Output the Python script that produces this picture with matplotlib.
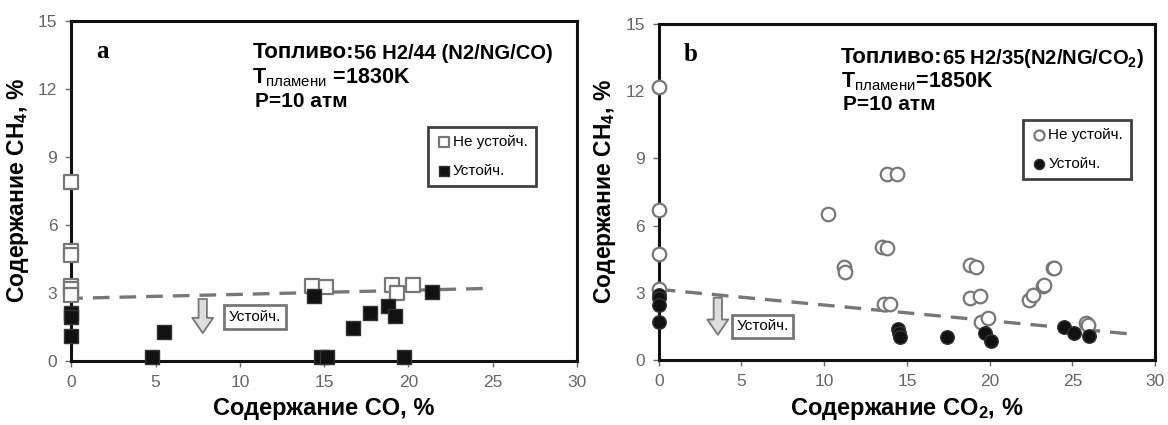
import matplotlib
matplotlib.use("Agg")
import matplotlib.pyplot as plt

plt.rcParams["font.family"] = ["Liberation Sans", "DejaVu Sans"]
plt.rcParams["mathtext.fontset"] = "custom"
plt.rcParams["mathtext.rm"] = "Liberation Sans"
plt.rcParams["mathtext.bf"] = "Liberation Sans:bold"
plt.rcParams["mathtext.it"] = "Liberation Sans:italic"

NARROW = ["Liberation Sans Narrow", "Liberation Sans", "DejaVu Sans"]

# ---- panel a: CO content ----
a_unstable_x = [0, 0, 0, 0, 0, 0, 14.3, 15.1, 19.0, 19.3, 20.3]
a_unstable_y = [7.9, 4.85, 4.65, 3.3, 3.15, 2.9, 3.3, 3.25, 3.35, 3.0, 3.35]
a_stable_x = [0, 0, 0, 4.8, 5.5, 14.4, 14.8, 15.2, 16.7, 17.7, 18.8, 19.2, 19.75, 21.4]
a_stable_y = [2.1, 1.95, 1.1, 0.15, 1.25, 2.85, 0.15, 0.15, 1.47, 2.13, 2.42, 1.98, 0.15, 3.03]
a_trend_x = [-0.3, 25.0]
a_trend_y = [2.75, 3.2]

# ---- panel b: CO2 content ----
b_unstable_x = [0, 0, 0, 0, 10.2, 13.8, 14.4, 13.5, 13.8, 11.2, 11.25, 13.6, 14.0,
                18.8, 19.15, 18.8, 19.4, 19.5, 19.9, 22.4, 22.6, 23.2, 23.3, 23.8, 23.9,
                25.85, 25.95]
b_unstable_y = [12.2, 6.67, 4.72, 3.15, 6.52, 8.3, 8.3, 5.06, 4.99, 4.17, 3.94, 2.5, 2.5,
                4.24, 4.17, 2.78, 2.87, 1.71, 1.86, 2.68, 2.9, 3.32, 3.35, 4.1, 4.12,
                1.64, 1.56]
b_stable_x = [0, 0, 0, 0, 14.45, 14.5, 14.55, 17.4, 19.7, 20.1, 24.5, 25.1, 26.0]
b_stable_y = [2.9, 2.75, 2.46, 1.71, 1.37, 1.19, 1.04, 1.04, 1.19, 0.86, 1.49, 1.22, 1.07]
b_trend_x = [0.0, 28.5]
b_trend_y = [3.15, 1.16]

x_ticks = [0, 5, 10, 15, 20, 25, 30]
y_ticks = [0, 3, 6, 9, 12, 15]

legend_labels = ["Не устойч.", "Устойч."]


def style_axes(ax, xlabel):
    ax.set_xlim(0, 30)
    ax.set_ylim(0, 15)
    ax.set_xticks(x_ticks)
    ax.set_yticks(y_ticks)
    ax.tick_params(direction="out", length=4, width=1, colors="#666666",
                   labelsize=12.5, pad=6)
    for side in ["left", "bottom", "top", "right"]:
        ax.spines[side].set_linewidth(2.2)
        ax.spines[side].set_color("#111111")
    ax.set_xlabel(xlabel, fontsize=17, fontweight="bold", labelpad=5)
    ax.set_ylabel("Содержание CH$_{\\mathbf{4}}$, %", fontsize=16.5,
                  fontweight="bold", labelpad=5)


def draw_panel(ax, letter, fuel_lead, fuel_rest, temp, marker, ux, uy, sx, sy,
               tx, ty, arrow_x, arrow_y, box_x, box_y, text_x, text_y,
               legend_anchor, xlabel):
    ax.plot(tx, ty, linestyle=(0, (5, 3)), color="#777777", linewidth=2.4, zorder=2,
            clip_on=False)
    h1 = ax.scatter(ux, uy, marker=marker, s=95, facecolors="white",
                    edgecolors="#777777", linewidths=1.6, zorder=3, clip_on=False,
                    label=legend_labels[0])
    h2 = ax.scatter(sx, sy, marker=marker, s=95, facecolors="#111111",
                    edgecolors="#333333", linewidths=1.0, zorder=4, clip_on=False,
                    label=legend_labels[1])

    ax.text(0.05, 0.91, letter, transform=ax.transAxes, fontsize=18,
            fontweight="bold", family=["Liberation Serif", "DejaVu Serif"],
            va="center", ha="left")

    t = ax.text(text_x, text_y[0], fuel_lead, fontsize=16, fontweight="bold",
                va="center", ha="left")
    ax.annotate(fuel_rest, xycoords=t, xy=(1, 0.45), va="center", ha="left",
                fontsize=14.5, fontweight="bold")
    ax.text(text_x, text_y[1], "$\\mathbf{T}_{\\mathrm{пламени}}$" + temp, fontsize=15.5,
            fontweight="bold", va="center", ha="left")
    ax.text(text_x + 0.15, text_y[2], "P=10 атм", fontsize=15, fontweight="bold",
            va="center", ha="left")

    ax.annotate("", xy=(arrow_x, arrow_y[1]), xytext=(arrow_x, arrow_y[0]),
                arrowprops=dict(arrowstyle="simple,head_width=1.5,head_length=1.1,tail_width=0.6",
                                fc="#dddddd", ec="#777777", lw=1.3))
    ax.text(box_x, box_y, "Устойч.", fontsize=11, family=NARROW, va="center", ha="left",
            bbox=dict(boxstyle="square,pad=0.3", fc="white", ec="#777777", lw=2))

    leg = ax.legend(handles=[h1, h2], loc="upper left", bbox_to_anchor=legend_anchor,
                    borderaxespad=0, frameon=True, fancybox=False,
                    labelspacing=0.95, handletextpad=0.1, handlelength=1.0,
                    borderpad=0.55, markerscale=0.75,
                    prop={"family": NARROW, "size": 11})
    leg.get_frame().set_edgecolor("#111111")
    leg.get_frame().set_linewidth(2)

    style_axes(ax, xlabel)


def main():
    fig = plt.figure(figsize=(11.68, 4.25), dpi=100)
    ax_a = fig.add_axes([0.061, 0.151, 0.433, 0.800])
    ax_b = fig.add_axes([0.564, 0.153, 0.425, 0.791])

    draw_panel(ax_a, "a", "Топливо:", "56 H2/44 (N2/NG/CO)", " =1830K", "s",
               a_unstable_x, a_unstable_y, a_stable_x, a_stable_y,
               a_trend_x, a_trend_y, 7.8, (2.85, 1.1), 9.35, 1.93,
               10.75, (13.6, 12.5, 11.45), (0.705, 0.688),
               "Содержание CO, %")
    draw_panel(ax_b, "b", "Топливо:", "65 H2/35(N2/NG/CO$_{\\mathbf{2}}$)", "=1850K", "o",
               b_unstable_x, b_unstable_y, b_stable_x, b_stable_y,
               b_trend_x, b_trend_y, 3.57, (2.9, 1.0), 4.7, 1.5,
               11.0, (13.5, 12.4, 11.4), (0.734, 0.714),
               "Содержание CO$_{\\mathbf{2}}$, %")

    fig.savefig("out.png", dpi=100)
    plt.close(fig)


if __name__ == "__main__":
    main()
